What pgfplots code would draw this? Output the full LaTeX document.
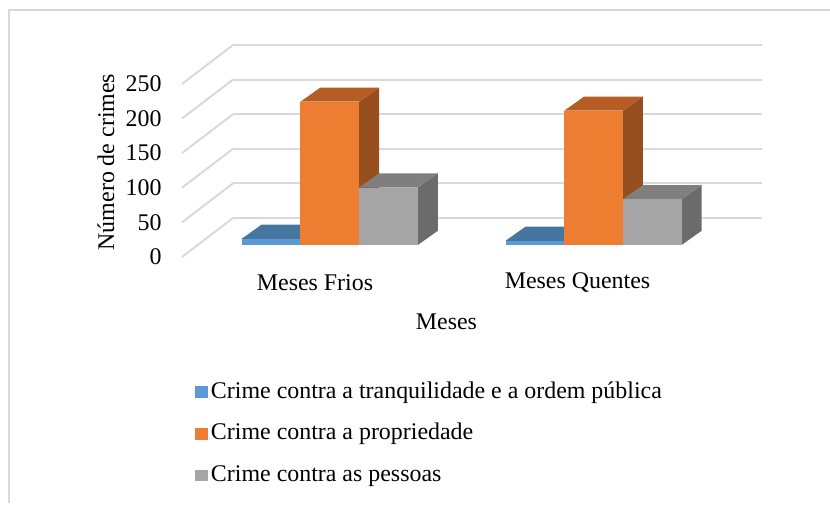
\documentclass[border=0pt]{standalone}
\usepackage{fontspec}
\setmainfont{Liberation Serif}
\usepackage{pgfplots}
\pgfplotsset{compat=1.18}

% Excel-like palette: front / top / side faces
\definecolor{blueF}{HTML}{5B9BD5}
\definecolor{blueT}{HTML}{45769F}
\definecolor{blueS}{HTML}{3A6188}
\definecolor{orgF}{HTML}{ED7D31}
\definecolor{orgT}{HTML}{B55D22}
\definecolor{orgS}{HTML}{984F1F}
\definecolor{gryF}{HTML}{A5A5A5}
\definecolor{gryT}{HTML}{7F7F7F}
\definecolor{gryS}{HTML}{6B6B6B}
\definecolor{gridc}{HTML}{D9D9D9}

\begin{document}
\begin{tikzpicture}
% x runs in picture units (0..830), y in number of crimes on the bar front plane
% the depth of a bar shifts it by +20 in x and +20.5 in y
\begin{axis}[
  width=415bp, height=252bp, scale only axis,
  xmin=0, xmax=830, ymin=-374.3, ymax=354.0,
  clip=false,
  axis line style={draw=none},
  major tick length=0pt,
  xtick=\empty,
  ytick={-17.3,32.7,82.7,132.7,182.7,232.7},
  yticklabels={0,50,100,150,200,250},
  yticklabel style={anchor=east, inner sep=0pt, xshift=81bp, font=\fontsize{12}{14}\selectfont},
  /pgf/number format/assume math mode=true,
  legend cell align=left,
  legend style={at={(axis cs:195,-194.7)}, anchor=north west, draw=none, fill=none,
    inner sep=0pt, row sep=8.8bp, font=\fontsize{12}{14}\selectfont,
    nodes={inner sep=0pt, text height=9bp, text depth=3bp},
    /tikz/every odd column/.append style={column sep=1.3bp}},
  legend image code/.code={\fill[#1] (0bp,-2.9bp) rectangle (6.5bp,2.9bp);},
]
% chart frame
\draw[gridc, line width=0.8bp] (axis cs:9,-373.5) -- (axis cs:9,339.6) -- (axis cs:829.5,339.6);

% back wall gridlines and the floor-side diagonals
\addplot[gridc, line width=1bp, unbounded coords=jump, forget plot] coordinates {
  (233,39) (762,39) (0,nan) (233,89) (762,89) (0,nan) (233,139) (762,139) (0,nan)
  (233,189) (762,189) (0,nan) (233,239) (762,239) (0,nan) (233,289) (762,289)
};
\addplot[gridc, line width=1bp, unbounded coords=jump, forget plot] coordinates {
  (182,-17.3) (233,39) (0,nan) (182,32.7) (233,89) (0,nan) (182,82.7) (233,139) (0,nan)
  (182,132.7) (233,189) (0,nan) (182,182.7) (233,239) (0,nan) (182,232.7) (233,289)
};

% Crime contra a tranquilidade e a ordem publica: 9, 6
\addplot[fill=blueS, draw=none, forget plot] coordinates {(300.4,0) (320.4,20.5) (320.4,29.5) (300.4,9)} --cycle;
\addplot[fill=blueT, draw=none, forget plot] coordinates {(241.7,9) (300.4,9) (320.4,29.5) (261.7,29.5)} --cycle;
\addplot[fill=blueF, draw=none, forget plot] coordinates {(241.7,0) (300.4,0) (300.4,9) (241.7,9)} --cycle;
\addplot[fill=blueS, draw=none, forget plot] coordinates {(564.2,0) (584.2,20.5) (584.2,26.5) (564.2,6)} --cycle;
\addplot[fill=blueT, draw=none, forget plot] coordinates {(505.5,6) (564.2,6) (584.2,26.5) (525.5,26.5)} --cycle;
\addplot[fill=blueF, draw=none, forget plot] coordinates {(505.5,0) (564.2,0) (564.2,6) (505.5,6)} --cycle;

% Crime contra a propriedade: 207, 194
\addplot[fill=orgS, draw=none, forget plot] coordinates {(359.1,0) (379.1,20.5) (379.1,227.5) (359.1,207)} --cycle;
\addplot[fill=orgT, draw=none, forget plot] coordinates {(300.4,207) (359.1,207) (379.1,227.5) (320.4,227.5)} --cycle;
\addplot[fill=orgF, draw=none, forget plot] coordinates {(300.4,0) (359.1,0) (359.1,207) (300.4,207)} --cycle;
\addplot[fill=orgS, draw=none, forget plot] coordinates {(622.9,0) (642.9,20.5) (642.9,214.5) (622.9,194)} --cycle;
\addplot[fill=orgT, draw=none, forget plot] coordinates {(564.2,194) (622.9,194) (642.9,214.5) (584.2,214.5)} --cycle;
\addplot[fill=orgF, draw=none, forget plot] coordinates {(564.2,0) (622.9,0) (622.9,194) (564.2,194)} --cycle;

% Crime contra as pessoas: 83, 66
\addplot[fill=gryS, draw=none, forget plot] coordinates {(417.8,0) (437.8,20.5) (437.8,103.5) (417.8,83)} --cycle;
\addplot[fill=gryT, draw=none, forget plot] coordinates {(359.1,83) (417.8,83) (437.8,103.5) (379.1,103.5)} --cycle;
\addplot[fill=gryF, draw=none, forget plot] coordinates {(359.1,0) (417.8,0) (417.8,83) (359.1,83)} --cycle;
\addplot[fill=gryS, draw=none, forget plot] coordinates {(681.6,0) (701.6,20.5) (701.6,86.5) (681.6,66)} --cycle;
\addplot[fill=gryT, draw=none, forget plot] coordinates {(622.9,66) (681.6,66) (701.6,86.5) (642.9,86.5)} --cycle;
\addplot[fill=gryF, draw=none, forget plot] coordinates {(622.9,0) (681.6,0) (681.6,66) (622.9,66)} --cycle;

\addlegendimage{fill=blueF, draw=none}
\addlegendentry{Crime contra a tranquilidade e a ordem pública}
\addlegendimage{fill=orgF, draw=none}
\addlegendentry{Crime contra a propriedade}
\addlegendimage{fill=gryF, draw=none}
\addlegendentry{Crime contra as pessoas}

\node[font=\fontsize{12}{14}\selectfont] at (axis cs:315,-54.9) {Meses Frios};
\node[font=\fontsize{12}{14}\selectfont] at (axis cs:577.5,-54.9) {Meses Quentes};
\node[font=\fontsize{12}{14}\selectfont] at (axis cs:446.5,-110.8) {Meses};
\node[font=\fontsize{12}{14}\selectfont, rotate=90] at (axis cs:106,119.9) {Número de crimes};
\end{axis}
\pgfresetboundingbox
\path (current axis.south west) rectangle (current axis.north east);
\end{tikzpicture}
\end{document}
